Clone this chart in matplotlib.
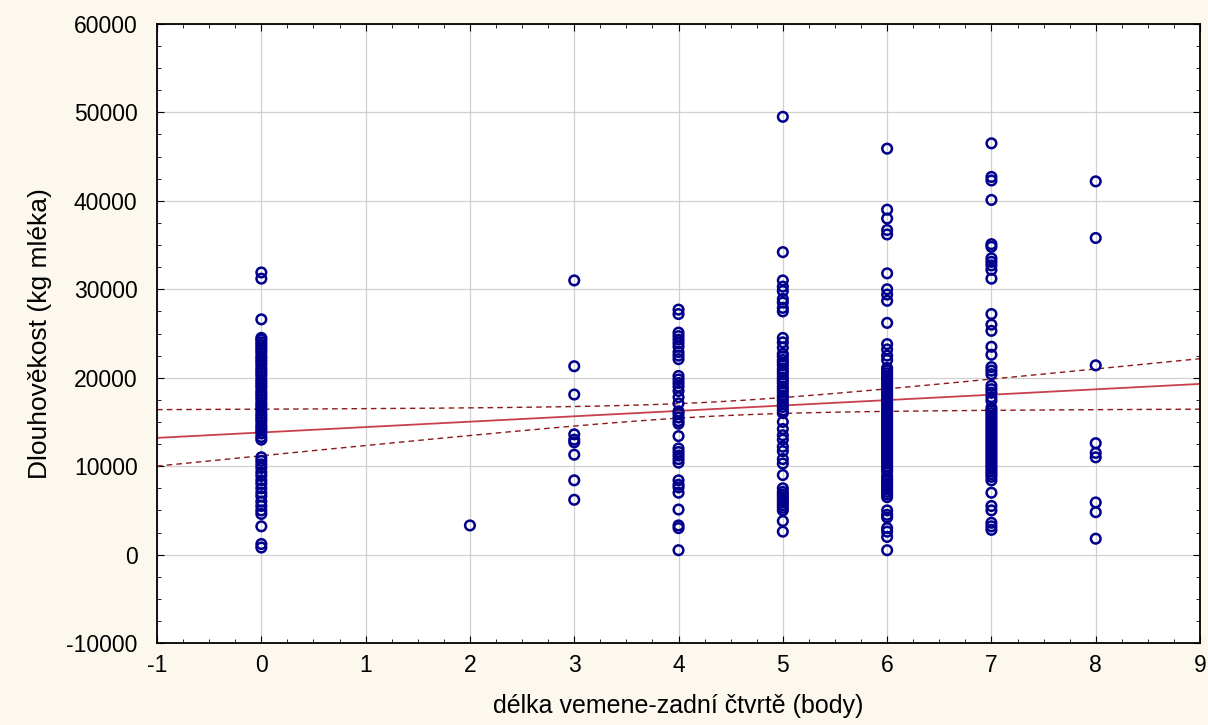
import numpy as np
import matplotlib.pyplot as plt
from matplotlib.ticker import MultipleLocator

plt.rcParams['font.family'] = ['Liberation Sans', 'DejaVu Sans']
plt.rcParams['axes.unicode_minus'] = False

# body score -> longevity values (kg milk)
scores = [0, 2, 3, 4, 5, 6, 7, 8]
longevity = {
    0: [31900, 31200, 26600, 24500, 24300, 24000, 23700, 23400, 23100, 22800,
        22400, 22100, 21800, 21500, 21100, 20800, 20500, 20200, 19800, 19500,
        19200, 18900, 18500, 18200, 17900, 17600, 17200, 16900, 16600, 16300,
        15900, 15600, 15300, 15000, 14600, 14300, 14000, 13700, 13300, 13000,
        11000, 10600, 10200, 9800, 9300, 8900, 8400, 8000, 7500, 7000,
        6600, 6000, 5500, 5000, 4600, 3200, 1200, 800],
    2: [3300],
    3: [31000, 21300, 18100, 13600, 13000, 12700, 11300, 8400, 6200],
    4: [27700, 27200, 25100, 24700, 24300, 23900, 23500, 22900, 22500, 22100,
        20200, 19800, 19400, 19000, 18500, 17800, 17100, 16200, 15900, 15500,
        15100, 14800, 13400, 12000, 11600, 11200, 10800, 10400, 8400, 7900,
        7600, 7000, 5100, 3300, 3000, 500],
    5: [49500, 34200, 31000, 30300, 29800, 28900, 28500, 27900, 27500, 24500,
        24000, 23400, 22700, 22400, 22000, 21700, 21400, 21000, 20700, 20400,
        20000, 19700, 19400, 19000, 18700, 18400, 18000, 17700, 17400, 17000,
        16700, 16300, 16000, 15000, 14200, 13500, 13000, 12200, 11700, 10800,
        10300, 9000, 7500, 7100, 6800, 6500, 6200, 5900, 5600, 5300,
        5000, 3800, 2600],
    6: [45900, 39000, 38000, 36700, 36200, 31800, 30000, 29400, 28700, 26200,
        23800, 23200, 22500, 22000, 21100, 20800, 20500, 20200, 19900, 19600,
        19300, 19000, 18700, 18400, 18100, 17800, 17500, 17200, 16900, 16600,
        16300, 16000, 15700, 15400, 15100, 14800, 14500, 14200, 13900, 13600,
        13300, 13000, 12700, 12400, 12100, 11800, 11500, 11200, 10900, 10600,
        10300, 10000, 9700, 9400, 8900, 8600, 8300, 8000, 7700, 7400,
        7100, 6800, 6500, 5000, 4500, 4200, 3000, 2600, 2000, 500],
    7: [46500, 42700, 42300, 40100, 35100, 34800, 33500, 33100, 32700, 32200,
        31200, 27200, 26000, 25300, 23500, 22600, 21200, 20800, 20400, 19100,
        18700, 18300, 17800, 17400, 16600, 16300, 16000, 15700, 15400, 15100,
        14800, 14500, 14200, 13900, 13600, 13300, 13000, 12700, 12400, 12100,
        11800, 11500, 11200, 10900, 10600, 10300, 10000, 9700, 9400, 9100,
        8800, 8400, 7000, 5500, 5000, 3600, 3200, 2800],
    8: [42200, 35800, 21400, 12600, 11500, 11000, 5900, 4800, 1800],
}

# regression line and 95% confidence band
fit_intercept = 13810
fit_slope = 610
ci_min = 800        # narrowest half-width
ci_center = 4.3     # x where the band is narrowest
ci_curv = 340000    # growth of squared half-width

x = np.concatenate([[s] * len(longevity[s]) for s in scores]).astype(float)
y = np.concatenate([longevity[s] for s in scores]).astype(float)

xs = np.linspace(-1, 9, 200)
ys = fit_intercept + fit_slope * xs
half = np.sqrt(ci_min ** 2 + ci_curv * (xs - ci_center) ** 2)

fig = plt.figure(figsize=(12.08, 7.25), dpi=100, facecolor='#fcf8ee')
ax = fig.add_axes([0.13, 0.113, 0.8634, 0.854])
ax.set_facecolor('white')

ax.scatter(x, y, s=48, facecolors='none', edgecolors='#00008c', linewidths=1.8, zorder=3)
ax.plot(xs, ys, color='#c8404a', lw=1.3, zorder=2)
ax.plot(xs, ys + half, color='#8b1a1a', lw=1.0, ls=(0, (4, 3)), zorder=2)
ax.plot(xs, ys - half, color='#8b1a1a', lw=1.0, ls=(0, (4, 3)), zorder=2)

ax.set_xlim(-1, 9)
ax.set_ylim(-10000, 60000)
ax.xaxis.set_major_locator(MultipleLocator(1))
ax.xaxis.set_minor_locator(MultipleLocator(0.25))
ax.yaxis.set_major_locator(MultipleLocator(10000))
ax.yaxis.set_minor_locator(MultipleLocator(2500))
ax.tick_params(which='both', direction='in', top=True, right=True, labelsize=16.5)
ax.tick_params(which='major', length=5)
ax.tick_params(axis='y', which='major', pad=14)
ax.tick_params(axis='x', which='major', pad=8)
ax.tick_params(which='minor', length=3)
ax.grid(True, which='major', color='#d0d0d0', lw=0.9)
ax.set_axisbelow(True)
for sp in ax.spines.values():
    sp.set_linewidth(1.3)

ax.set_xlabel('délka vemene-zadní čtvrtě (body)', fontsize=18, labelpad=12)
ax.set_ylabel('Dlouhověkost (kg mléka)', fontsize=19, labelpad=10)

fig.savefig('out.png', dpi=100, facecolor=fig.get_facecolor())
